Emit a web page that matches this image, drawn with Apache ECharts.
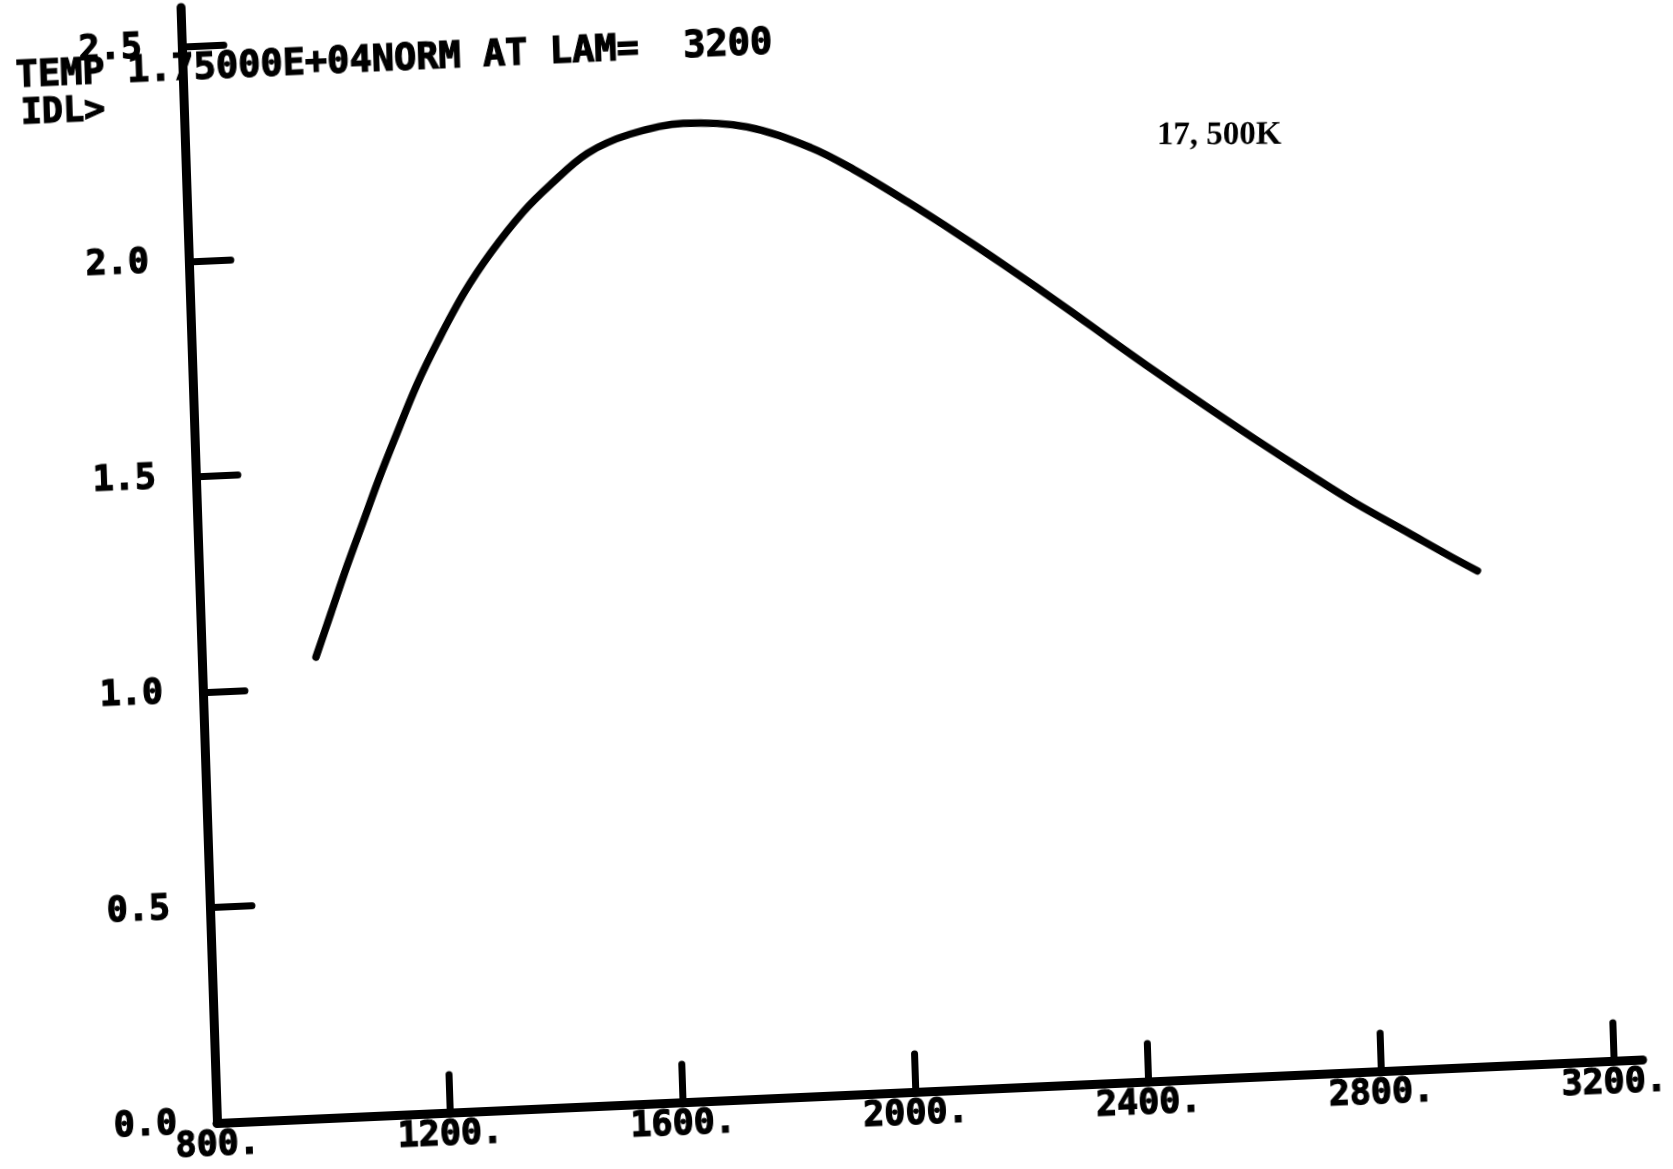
<!DOCTYPE html>
<html>
<head>
<meta charset="utf-8">
<script src="https://cdn.jsdelivr.net/npm/echarts@6/dist/echarts.min.js"></script>
<style>
html,body{margin:0;padding:0;background:#fff;overflow:hidden;width:1673px;height:1169px;}
#chart{position:absolute;left:0;top:0;width:1673px;height:1169px;
  transform-origin:217px 1123px;
  transform:matrix(0.99901,-0.04449,0.03266,0.99947,0,0);}
</style>
</head>
<body>
<div id="chart"></div>
<script>
// Wavelength (Angstrom)
const wavelengths = [996, 1024, 1055, 1085, 1115, 1144, 1184, 1223, 1271, 1319, 1376, 1424, 1490, 1564, 1656, 1765, 1874, 1946, 2036, 2126, 2197, 2305, 2376, 2448, 2537, 2618, 2707, 2788, 2878, 2950, 2994];
// Normalized flux (norm at LAM = 3200)
const fluxNorm = [1.07, 1.17, 1.28, 1.38, 1.48, 1.57, 1.69, 1.79, 1.90, 1.99, 2.08, 2.14, 2.21, 2.25, 2.27, 2.255, 2.20, 2.145, 2.065, 1.98, 1.91, 1.80, 1.725, 1.65, 1.56, 1.48, 1.395, 1.32, 1.245, 1.185, 1.15];
// Tick values
const xTickValues = [800, 1200, 1600, 2000, 2400, 2800, 3200];
const yTickValues = [0, 0.5, 1.0, 1.5, 2.0, 2.5];
// Texts
const titleText = 'TEMP 1.75000E+04NORM AT LAM=  3200';
const promptText = 'IDL>';
const annotationText = '17, 500K';

const chart = echarts.init(document.getElementById('chart'), null, {renderer: 'canvas'});
const monoFont = 'DejaVu Sans Mono';

const option = {
  animation: false,
  backgroundColor: '#ffffff',
  grid: {left: 217, right: 29, top: 7, bottom: 46, containLabel: false, outerBoundsMode: 'none'},
  xAxis: {
    type: 'value', min: 800, max: 3250, interval: 400,
    axisLine: {show: true, onZero: false, lineStyle: {color: '#000', width: 9, cap: 'round'}},
    axisTick: {show: true, inside: true, length: 38, customValues: xTickValues.slice(1),
      lineStyle: {color: '#000', width: 7, cap: 'round'}},
    axisLabel: {show: true, margin: 5, customValues: xTickValues,
      formatter: v => String(Math.round(v)) + '.',
      color: '#000', fontFamily: monoFont, fontWeight: 'bold', fontSize: 35,
      textBorderColor: '#000', textBorderWidth: 1.2},
    splitLine: {show: false}
  },
  yAxis: {
    type: 'value', min: 0, max: 2.59, interval: 0.5,
    axisLine: {show: true, onZero: false, lineStyle: {color: '#000', width: 9, cap: 'round'}},
    axisTick: {show: true, inside: true, length: 42, customValues: yTickValues.slice(1),
      lineStyle: {color: '#000', width: 7, cap: 'round'}},
    axisLabel: {show: true, margin: 40, customValues: yTickValues,
      formatter: v => Number(v).toFixed(1),
      padding: [0, 0, 13, 0],
      color: '#000', fontFamily: monoFont, fontWeight: 'bold', fontSize: 35,
      textBorderColor: '#000', textBorderWidth: 1.2},
    splitLine: {show: false}
  },
  series: [{
    type: 'line',
    data: wavelengths.map((w, i) => [w, fluxNorm[i]]),
    showSymbol: false,
    smooth: 0.35,
    lineStyle: {color: '#000', width: 7.5, cap: 'round', join: 'round'},
    z: 3
  }],
  graphic: [
    {type: 'text', x: 50, y: 69, z: -1,
      style: {text: titleText, fill: '#000', font: 'bold 37px "DejaVu Sans Mono"',
        stroke: '#000', lineWidth: 1.2,
        textVerticalAlign: 'middle', verticalAlign: 'middle'}},
    {type: 'text', x: 54, y: 107,
      style: {text: promptText, fill: '#000', font: 'bold 35px "DejaVu Sans Mono"',
        stroke: '#000', lineWidth: 1.2,
        textVerticalAlign: 'middle', verticalAlign: 'middle'}},
    {type: 'text', x: 1251, y: 181, rotation: -0.039,
      style: {text: annotationText, fill: '#000', font: 'bold 33px "Liberation Serif"',
        textAlign: 'center', align: 'center', textVerticalAlign: 'middle', verticalAlign: 'middle'}}
  ]
};
chart.setOption(option);
</script>
</body>
</html>
